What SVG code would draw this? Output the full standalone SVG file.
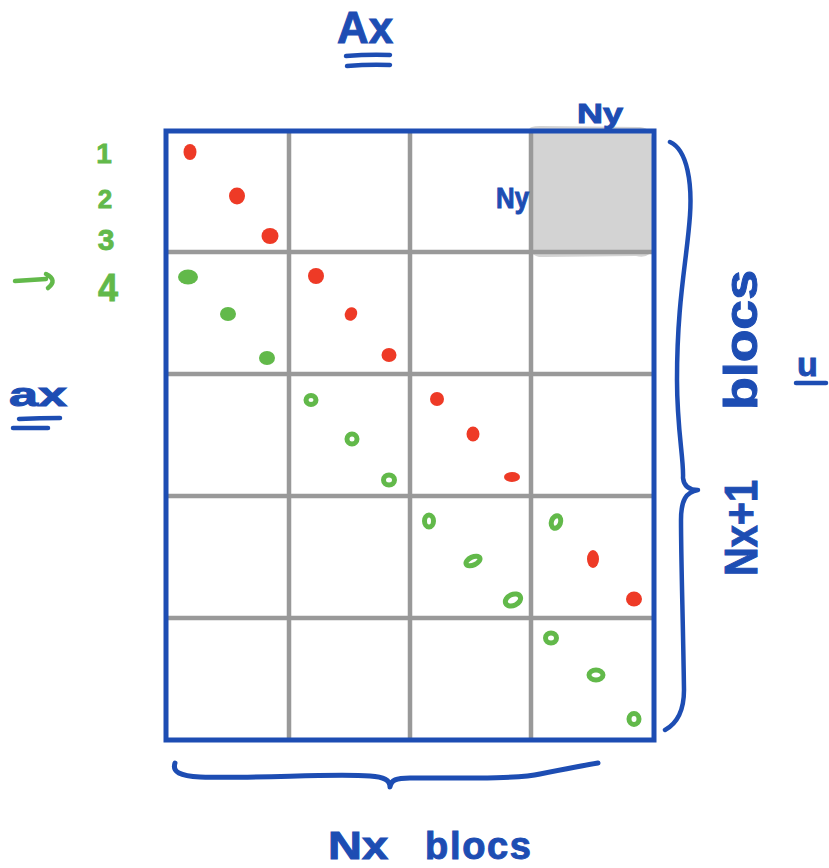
<svg xmlns="http://www.w3.org/2000/svg" width="829" height="868" viewBox="0 0 829 868">
<style>
.blue{fill:#1d4db3;stroke:#1d4db3;stroke-width:1;font-family:"Liberation Sans",Arial,sans-serif;font-weight:700}
.green{fill:#62b94a;stroke:#62b94a;stroke-width:0.8;font-family:"Liberation Sans",Arial,sans-serif;font-weight:700}
.pen{fill:none;stroke:#1d4db3;stroke-linecap:round;stroke-linejoin:round}
.grid{stroke:#999999;stroke-width:4.5;fill:none}
.r{fill:#ee3a26}
.g{fill:#62b94a}
.gr{fill:none;stroke:#62b94a;stroke-width:5}
</style>
<rect width="829" height="868" fill="#ffffff"/>

<g id="shaded-block">
<path d="M530,132 Q526,126 540,126 L640,127 Q652,128 652,140 L652,250 Q648,259 636,256 L544,257 Q530,258 531,246 Z" fill="#d3d3d3"/>
</g>

<g id="grid">
<path class="grid" d="M289,131V740M410,131V740M531,131V740M166,252H654M166,374H654M166,496H654M166,618H654"/>
<rect x="166" y="131" width="488" height="609" fill="none" stroke="#1d4db3" stroke-width="5"/>
</g>

<g id="dots">
<ellipse class="r" cx="190" cy="152" rx="6.5" ry="8"/>
<ellipse class="r" cx="237" cy="196" rx="8" ry="8.5"/>
<ellipse class="r" cx="270" cy="236" rx="8.5" ry="8"/>
<ellipse class="g" cx="188" cy="277" rx="10" ry="7.5"/>
<ellipse class="g" cx="228" cy="314" rx="8" ry="7"/>
<ellipse class="g" cx="267" cy="358" rx="8" ry="7"/>
<ellipse class="r" cx="316" cy="276" rx="8" ry="8"/>
<ellipse class="r" cx="351" cy="314" rx="6" ry="7" transform="rotate(30 351 314)"/>
<ellipse class="r" cx="389" cy="355" rx="7.5" ry="7"/>
<ellipse class="gr" cx="311" cy="400" rx="5" ry="4.5"/>
<ellipse class="gr" cx="352" cy="439" rx="5" ry="5"/>
<ellipse class="gr" cx="389" cy="480" rx="5.5" ry="5"/>
<ellipse class="r" cx="437" cy="399" rx="7" ry="7"/>
<ellipse class="r" cx="473" cy="434" rx="6.5" ry="7.5"/>
<ellipse class="r" cx="512" cy="477" rx="8" ry="5"/>
<ellipse class="gr" cx="429" cy="521" rx="4.5" ry="6"/>
<ellipse class="gr" cx="473" cy="561" rx="7.5" ry="4" transform="rotate(-25 473 561)"/>
<ellipse class="gr" cx="513" cy="600" rx="8" ry="5.5" transform="rotate(-25 513 600)"/>
<ellipse class="gr" cx="556" cy="522" rx="4.5" ry="6.5" transform="rotate(20 556 522)"/>
<ellipse class="r" cx="593" cy="559" rx="6" ry="9"/>
<ellipse class="r" cx="634" cy="599" rx="8" ry="7.5"/>
<ellipse class="gr" cx="551" cy="638" rx="5.5" ry="5"/>
<ellipse class="gr" cx="596" cy="675" rx="7" ry="5"/>
<ellipse class="gr" cx="634" cy="719" rx="5" ry="5.5"/>
</g>

<g id="label-Ax">
<text class="blue" x="337" y="43" font-size="44" textLength="56" lengthAdjust="spacingAndGlyphs">Ax</text>
<path class="pen" stroke-width="4.5" d="M346,56 Q370,54 390,55 M347,66 Q370,64 390,65"/>
</g>

<g id="label-ax">
<text class="blue" x="9" y="406" font-size="34" textLength="58" lengthAdjust="spacingAndGlyphs">ax</text>
<path class="pen" stroke-width="4.5" d="M19,419 Q40,418 60,418 M13,428 Q30,428 48,428"/>
</g>

<g id="row-numbers">
<text class="green" x="104" y="163" font-size="28" text-anchor="middle">1</text>
<text class="green" x="105" y="208" font-size="26" text-anchor="middle">2</text>
<text class="green" x="106" y="250" font-size="30" text-anchor="middle">3</text>
<text class="green" x="108" y="301" font-size="38" text-anchor="middle" textLength="20" lengthAdjust="spacingAndGlyphs">4</text>
<path fill="none" stroke="#62b94a" stroke-width="4.5" stroke-linecap="round" d="M15,281 L46,279 M46,274 Q58,280 48,288"/>
</g>

<g id="label-Ny-top">
<text class="blue" x="577" y="123" font-size="28" textLength="46" lengthAdjust="spacingAndGlyphs">Ny</text>
</g>

<g id="label-Ny-left">
<text class="blue" x="496" y="208" font-size="30" textLength="33" lengthAdjust="spacingAndGlyphs">Ny</text>
</g>

<g id="label-u">
<text class="blue" x="797" y="376" font-size="34">u</text>
<path class="pen" stroke-width="4.5" d="M796,383 L826,383"/>
</g>

<g id="connectors">
<path class="pen" stroke-width="4.5" d="M670,142 C688,150 692,185 690,215 C687,260 677,300 677,380 C677,430 684,460 683,478 C684,487 690,490 698,490 C686,492 681,500 681,520 C681,560 683,620 684,690 C684,712 676,724 665,730"/>
<path class="pen" stroke-width="5" d="M175,763 C172,772 180,776 200,777 C260,779 330,773 370,776 C384,777 390,780 390,787 C391,780 396,778 410,778 C460,778 520,779 540,774 C560,770 580,766 598,763"/>
</g>

<g id="label-rows">
<text class="blue" font-size="46" transform="translate(757,576) rotate(-90)"><tspan x="0" textLength="96" lengthAdjust="spacingAndGlyphs">Nx+1</tspan><tspan x="166" textLength="140" lengthAdjust="spacingAndGlyphs">blocs</tspan></text>
</g>

<g id="label-cols">
<text class="blue" y="859" font-size="38"><tspan x="328" textLength="60" lengthAdjust="spacingAndGlyphs">Nx</tspan><tspan x="425" textLength="106" lengthAdjust="spacing">blocs</tspan></text>
</g>
</svg>
